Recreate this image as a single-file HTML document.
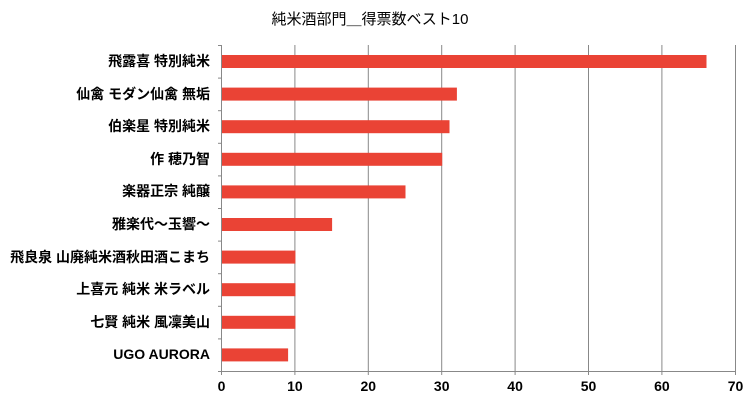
<!DOCTYPE html>
<html><head><meta charset="utf-8"><style>
body{margin:0;background:#fff;width:754px;height:402px;overflow:hidden}
</style></head><body>
<svg width="754" height="402" xmlns="http://www.w3.org/2000/svg" font-family="'Liberation Sans','Noto Sans CJK JP',sans-serif">
<text x="370" y="24" text-anchor="middle" font-size="15" fill="#000">純米酒部門＿得票数ベスト10</text>
<g stroke="#888" stroke-width="1">
<line x1="294.9" y1="45" x2="294.9" y2="375"/>
<line x1="368.3" y1="45" x2="368.3" y2="375"/>
<line x1="441.7" y1="45" x2="441.7" y2="375"/>
<line x1="515.1" y1="45" x2="515.1" y2="375"/>
<line x1="588.5" y1="45" x2="588.5" y2="375"/>
<line x1="661.9" y1="45" x2="661.9" y2="375"/>
<line x1="735.5" y1="45" x2="735.5" y2="375"/>
<line x1="221.5" y1="45" x2="221.5" y2="375"/>
<line x1="218" y1="371.5" x2="735.5" y2="371.5"/>
<line x1="218" y1="45.5" x2="221.5" y2="45.5"/>
<line x1="218" y1="78.1" x2="221.5" y2="78.1"/>
<line x1="218" y1="110.7" x2="221.5" y2="110.7"/>
<line x1="218" y1="143.3" x2="221.5" y2="143.3"/>
<line x1="218" y1="175.9" x2="221.5" y2="175.9"/>
<line x1="218" y1="208.5" x2="221.5" y2="208.5"/>
<line x1="218" y1="241.1" x2="221.5" y2="241.1"/>
<line x1="218" y1="273.7" x2="221.5" y2="273.7"/>
<line x1="218" y1="306.3" x2="221.5" y2="306.3"/>
<line x1="218" y1="338.9" x2="221.5" y2="338.9"/>
</g>
<g fill="#ea4335">
<rect x="222" y="55" width="484.5" height="13"/>
<rect x="222" y="87.6" width="234.9" height="13"/>
<rect x="222" y="120.2" width="227.5" height="13"/>
<rect x="222" y="152.8" width="220.2" height="13"/>
<rect x="222" y="185.4" width="183.5" height="13"/>
<rect x="222" y="218" width="110.1" height="13"/>
<rect x="222" y="250.6" width="73.4" height="13"/>
<rect x="222" y="283.2" width="73.4" height="13"/>
<rect x="222" y="315.8" width="73.4" height="13"/>
<rect x="222" y="348.4" width="66.1" height="13"/>
</g>
<g font-size="14" font-weight="bold" text-anchor="end" fill="#000">
<text x="210" y="66">飛露喜 特別純米</text>
<text x="210" y="99">仙禽 モダン仙禽 無垢</text>
<text x="210" y="131">伯楽星 特別純米</text>
<text x="210" y="164">作 穂乃智</text>
<text x="210" y="196">楽器正宗 純醸</text>
<text x="210" y="229">雅楽代～玉響～</text>
<text x="210" y="262">飛良泉 山廃純米酒秋田酒こまち</text>
<text x="210" y="294">上喜元 純米 米ラベル</text>
<text x="210" y="327">七賢 純米 風凜美山</text>
<text x="210" y="359">UGO AURORA</text>
</g>
<g font-size="14" font-weight="bold" text-anchor="middle" fill="#000">
<text x="221.5" y="391">0</text>
<text x="294.9" y="391">10</text>
<text x="368.3" y="391">20</text>
<text x="441.7" y="391">30</text>
<text x="515.1" y="391">40</text>
<text x="588.5" y="391">50</text>
<text x="661.9" y="391">60</text>
<text x="735.5" y="391">70</text>
</g>
</svg>
</body></html>
